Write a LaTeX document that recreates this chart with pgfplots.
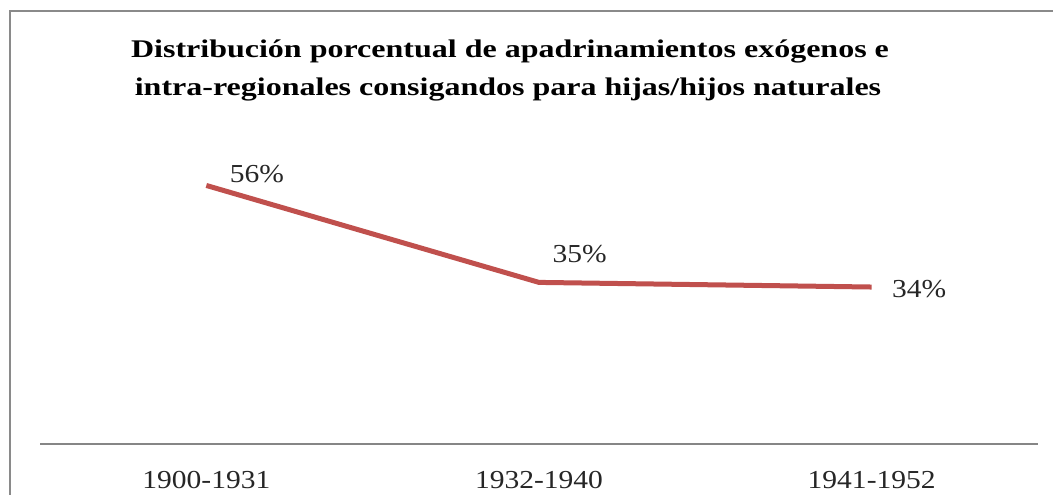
\documentclass[border=0pt]{standalone}
\usepackage{pgfplots}
\pgfplotsset{compat=1.18}
\usepackage{fontspec}
\setmainfont[FakeStretch=1.14]{Liberation Serif}
\newfontfamily\titlefont[FakeStretch=1.26]{Liberation Serif}
\definecolor{linered}{HTML}{C0504D}
\definecolor{framegray}{HTML}{8A8A8A}
\definecolor{axisgray}{HTML}{868686}
\begin{document}
\begin{tikzpicture}[x=1bp,y=1bp]
\useasboundingbox (0,0) rectangle (1053,495);
\draw[framegray, line width=2bp] (10,0) -- (10,484) -- (1053,484);
\node[anchor=base, font=\titlefont\fontsize{25.5}{30}\selectfont\bfseries] at (510,437) {Distribución porcentual de apadrinamientos exógenos e};
\node[anchor=base, font=\titlefont\fontsize{25.5}{30}\selectfont\bfseries] at (508,399) {intra-regionales consigandos para hijas/hijos naturales};
\begin{axis}[
  at={(40bp,51bp)}, anchor=south west,
  scale only axis, width=998bp, height=277bp,
  xmin=-0.5, xmax=2.5, ymin=0, ymax=60,
  clip=false,
  axis x line*=bottom, axis y line=none,
  x axis line style={axisgray, line width=2bp, -},
  xtick={0,1,2}, xticklabels={1900-1931,1932-1940,1941-1952},
  major tick length=0pt,
  xticklabel style={anchor=base, yshift=-45bp, font=\fontsize{26}{30}\selectfont, text=black!85},
  ytick=\empty,
]
\addplot[linered, line width=5bp, line join=round] coordinates {(0,56) (1,35) (2,34)};
\node[anchor=base west, font=\fontsize{26}{30}\selectfont, text=black!85, xshift=20bp, yshift=3bp] at (axis cs:0,56) {56\%};
\node[anchor=base west, font=\fontsize{26}{30}\selectfont, text=black!85, xshift=10bp, yshift=20bp] at (axis cs:1,35) {35\%};
\node[anchor=base west, font=\fontsize{26}{30}\selectfont, text=black!85, xshift=17bp, yshift=-10bp] at (axis cs:2,34) {34\%};
\end{axis}
\end{tikzpicture}
\end{document}
